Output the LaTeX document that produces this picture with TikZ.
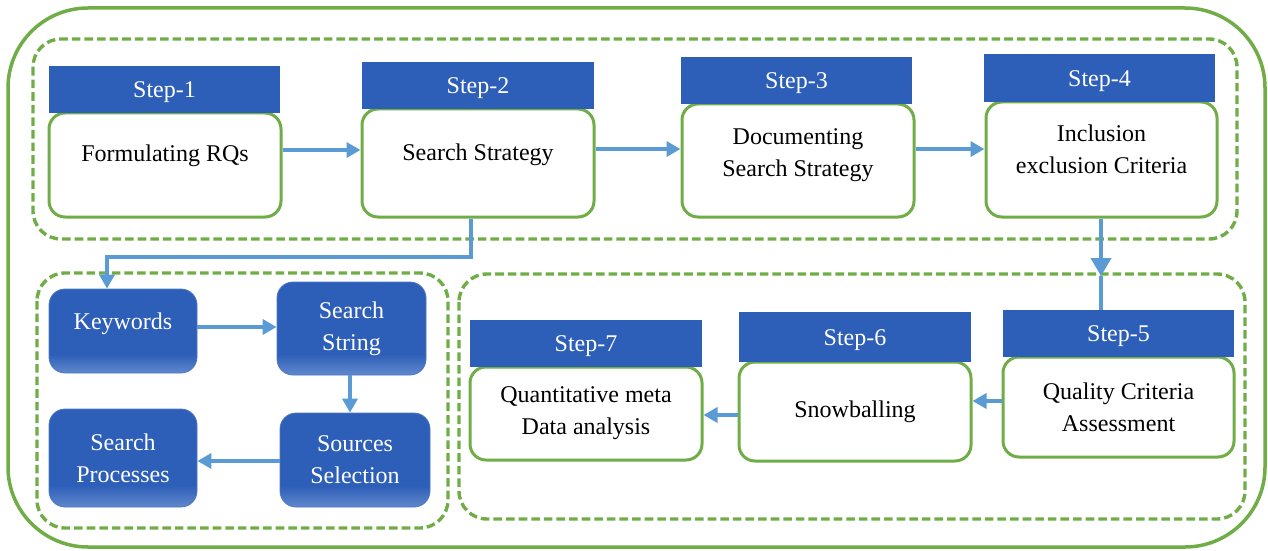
\documentclass[tikz,border=0pt]{standalone}
\usepackage{fontspec}
\setmainfont{Liberation Serif}
\usetikzlibrary{arrows.meta,calc}
\definecolor{grn}{HTML}{70AD47}
\definecolor{hdr}{HTML}{2E5FB8}
\definecolor{hdrlight}{HTML}{6088CC}
\definecolor{arw}{HTML}{5B9BD5}
\pgfdeclareverticalshading{blueshade}{100bp}{color(0bp)=(hdrlight); color(25bp)=(hdrlight); color(36bp)=(hdr); color(100bp)=(hdr)}
\begin{document}
\begin{tikzpicture}[x=0.5pt,y=-0.5pt,
  every node/.style={font=\fontsize{12}{16}\selectfont},
  outerbox/.style={draw=grn, line width=1.75pt, rounded corners=40pt},
  dashbox/.style={draw=grn, line width=1.7pt, dash pattern=on 4.3pt off 2pt, rounded corners=14pt},
  hdrbox/.style={fill=hdr, text=white, inner sep=0pt, minimum height=23.5pt, text height=8.2pt, text depth=0pt},
  bodybox/.style={draw=grn, line width=1.5pt, fill=white, rounded corners=8pt, inner sep=0pt, align=center},
  bluebox/.style={draw=hdr!85!white, line width=0.4pt, shading=blueshade, text=white, rounded corners=8pt, inner sep=0pt, align=center},
  txt/.style={anchor=base, inner sep=0pt, align=center},
  arr/.style={draw=arw, line width=2pt, -{Triangle[length=7pt,width=7.5pt]}},
  arrbig/.style={draw=arw, line width=2pt, -{Triangle[length=9pt,width=10pt]}},
  plain/.style={draw=arw, line width=2pt}
]
\useasboundingbox (0,0) rectangle (1268,551);

% containers
\draw[outerbox] (8,8) rectangle (1265,547);
\draw[dashbox] (33,39) rectangle (1237,239);
\draw[dashbox] (37,273) rectangle (448,528);
\draw[dashbox] (459,274) rectangle (1245,519);

% step 1-4 bodies
\node[bodybox, minimum width=116pt, minimum height=52pt] (b1) at (165,165) {};
\node[bodybox, minimum width=116pt, minimum height=54pt] (b2) at (478,163) {};
\node[bodybox, minimum width=116pt, minimum height=56.5pt] (b3) at (798,160.5) {};
\node[bodybox, minimum width=115.5pt, minimum height=57.5pt] (b4) at (1101.5,159.5) {};

% step 1-4 headers
\node[hdrbox, minimum width=115.5pt] (h1) at (164.5,89.5) {Step-1};
\node[hdrbox, minimum width=116pt] (h2) at (478,85.5) {Step-2};
\node[hdrbox, minimum width=115.5pt] (h3) at (796.5,80.5) {Step-3};
\node[hdrbox, minimum width=115.5pt, minimum height=24pt] (h4) at (1099.5,78) {Step-4};

% step 1-4 texts
\node[txt] (t1) at (165,162) {Formulating RQs};
\node[txt] (t2) at (478,161) {Search Strategy};
\node[bodybox, draw=none, fill=none] (t3) at (798,155.4) {Documenting\\Search Strategy};
\node[bodybox, draw=none, fill=none] (t4) at (1101.5,149) {Inclusion\\exclusion Criteria};

% step 5-7
\node[bodybox, minimum width=115.5pt, minimum height=50pt] (b5) at (1118.5,407) {Quality Criteria\\Assessment};
\node[bodybox, minimum width=116pt, minimum height=49.5pt] (b6) at (855,411.5) {Snowballing};
\node[bodybox, minimum width=116pt, minimum height=46.5pt] (b7) at (586,413.5) {Quantitative meta\\Data analysis};
\node[hdrbox, minimum width=115.5pt] (h5) at (1118.5,333.5) {Step-5};
\node[hdrbox, minimum width=116pt, minimum height=25pt] (h6) at (855,337) {Step-6};
\node[hdrbox, minimum width=116pt] (h7) at (586,343.5) {Step-7};

% search sub-process boxes
\node[bluebox, minimum width=74pt, minimum height=42pt] (kw) at (123,331) {};
\node[txt, text=white] (kwt) at (123,329) {Keywords};
\node[bluebox, minimum width=74.5pt, minimum height=46.5pt] (ss) at (351.5,328.5) {Search\\String};
\node[bluebox, minimum width=74pt, minimum height=49pt] (sp) at (123,458) {Search\\Processes};
\node[bluebox, minimum width=75pt, minimum height=47pt] (src) at (355,460) {Sources\\Selection};

% connectors top row
\draw[arr] (b1.east |- 0,150) -- (b2.west |- 0,150);
\draw[arr] (b2.east |- 0,149) -- (b3.west |- 0,149);
\draw[arr] (b3.east |- 0,149) -- (b4.west |- 0,149);

% step 2 to keywords
\draw[arr] (b2.south -| 471,0) -- ++(0,38) -| (kw.north -| 107,0);

% step 4 to step 5
\coordinate (tip45) at (1101,276);
\draw[plain] (tip45) -- (h5.north -| tip45);
\draw[arrbig] (b4.south -| tip45) -- (tip45);

% step 5-7 connectors
\draw[arr] (b5.west |- 0,401) -- (b6.east |- 0,401);
\draw[arr] (b6.west |- 0,415) -- (b7.east |- 0,415);

% sub-process connectors
\draw[arr] (kw.east |- 0,327) -- (ss.west |- 0,327);
\draw[arr] (ss.south -| 350,0) -- (src.north -| 350,0);
\draw[arr] (src.west |- 0,461) -- (sp.east |- 0,461);
\end{tikzpicture}
\end{document}
